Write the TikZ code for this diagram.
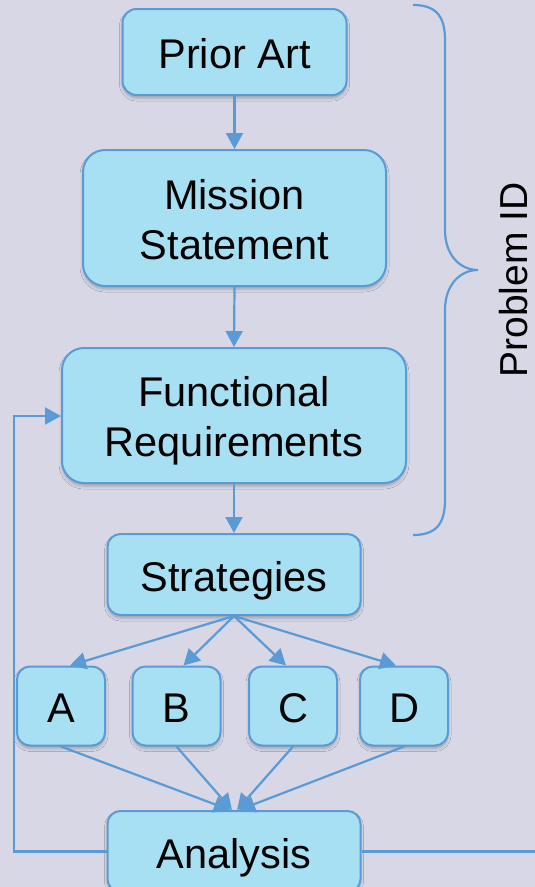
\documentclass[tikz,border=0pt]{standalone}
\usepackage{fontspec}
\setmainfont{Liberation Sans}
\usetikzlibrary{arrows.meta,shadows.blur,calc}

\definecolor{bgcol}{RGB}{215,215,230}
\definecolor{boxfill}{RGB}{168,224,243}
\definecolor{linecol}{RGB}{91,155,213}

\tikzset{
  box/.style={draw=linecol, line width=2pt, fill=boxfill, inner sep=0pt,
    align=center, font=\fontsize{41.5}{50}\selectfont,
    blur shadow={shadow xshift=0pt, shadow yshift=-3pt, shadow opacity=25, shadow blur radius=3pt}},
  oneline/.style={text height=33pt, text depth=0pt},
  conn/.style={draw=linecol, line width=2.2pt},
  arr/.style={conn, -{Triangle[length=16pt,width=17pt]}},
  brace/.style={draw=linecol, line width=2.2pt}
}

\begin{document}
\begin{tikzpicture}[x=1pt,y=-1pt]
  \useasboundingbox (0,0) rectangle (535,887);
  \fill[bgcol] (0,0) rectangle (535,887);
  \clip (0,0) rectangle (535,887);

  % flow of boxes
  \node[box, oneline, rounded corners=14pt, minimum width=224pt, minimum height=86pt] (prior) at (234.5,52) {Prior Art};
  \node[box, rounded corners=22pt, minimum width=303pt, minimum height=136pt] (mission) at (234.5,218) {\rule{0pt}{34pt}Mission\\Statement};
  \node[box, rounded corners=22pt, minimum width=344pt, minimum height=135pt] (func) at (234,415.5) {\rule{0pt}{41pt}Functional\\Requirements};
  \node[box, oneline, rounded corners=13pt, minimum width=253pt, minimum height=81pt] (strat) at (234,574.5) {Strategies};

  \node[box, oneline, rounded corners=13pt, minimum width=88pt, minimum height=79pt] (A) at (61,706) {A};
  \node[box, oneline, rounded corners=13pt, minimum width=88pt, minimum height=79pt] (B) at (176.5,706) {B};
  \node[box, oneline, rounded corners=13pt, minimum width=88pt, minimum height=79pt] (C) at (293,706) {C};
  \node[box, oneline, rounded corners=13pt, minimum width=88pt, minimum height=79pt] (D) at (404,706) {D};

  \node[box, oneline, rounded corners=13pt, minimum width=253pt, minimum height=81pt] (analysis) at (234,851.5) {Analysis};

  % main chain
  \draw[arr] (prior.south) -- (mission.north);
  \draw[arr] (mission.south) -- (func.north);
  \draw[arr] (func.south) -- (strat.north);

  % fan out to the strategies
  \draw[arr] (strat.south) -- ([xshift=9pt]A.north);
  \draw[arr] (strat.south) -- ([xshift=7pt]B.north);
  \draw[arr] (strat.south) -- ([xshift=-7pt]C.north);
  \draw[arr] (strat.south) -- ([xshift=-8pt]D.north);

  % fan in to the analysis
  \draw[arr] (A.south) -- ([xshift=-4pt]analysis.north);
  \draw[arr] (B.south) -- ([xshift=-2pt]analysis.north);
  \draw[arr] (C.south) -- ([xshift=3pt]analysis.north);
  \draw[arr] (D.south) -- ([xshift=5pt]analysis.north);

  % feedback loop and output line
  \coordinate (outend) at (540,851.5);
  \draw[arr] (analysis.west) -| (14,416) -- (func.west |- 0,416);
  \draw[conn] (analysis.east) -- (outend);

  % curly brace grouping the problem identification steps
  \draw[brace] (413,5) .. controls (435,5) and (445,15) .. (445,40)
    -- (445,230) .. controls (445,255) and (460,270) .. (478,270)
    .. controls (460,270) and (445,285) .. (445,310)
    -- (445,500) .. controls (445,525) and (435,535) .. (413,535);

  \node[rotate=90, font=\fontsize{39}{45}\selectfont, inner sep=0pt] (pid) at (514,280) {Problem ID};
\end{tikzpicture}
\end{document}
